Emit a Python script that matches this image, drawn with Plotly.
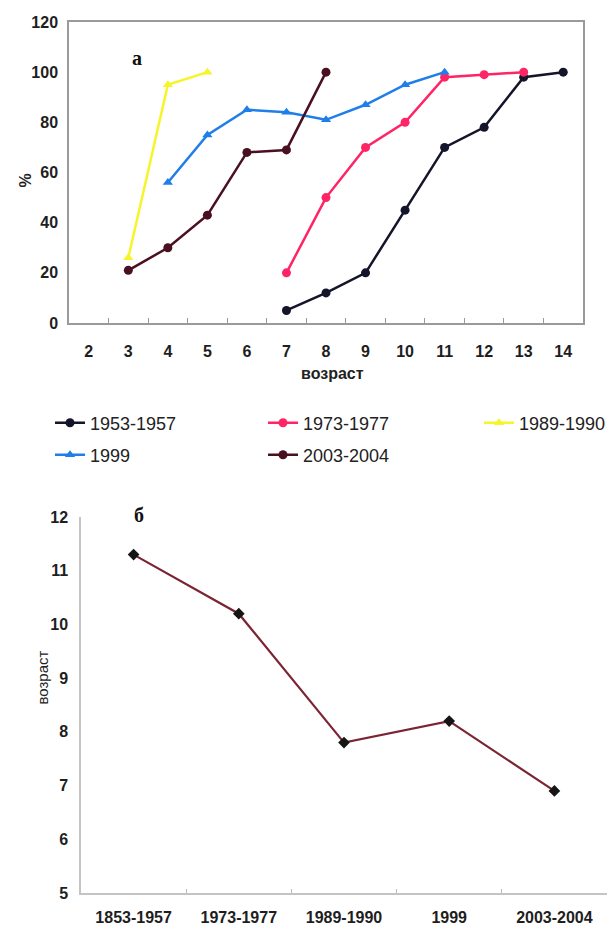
import plotly.graph_objects as go

W, H = 611, 925

# ---- Chart "а": share (%) by age ----
ages = ["2", "3", "4", "5", "6", "7", "8", "9", "10", "11", "12", "13", "14"]

s1953_x = ["7", "8", "9", "10", "11", "12", "13", "14"]
s1953_y = [5, 12, 20, 45, 70, 78, 98, 100]

s1973_x = ["7", "8", "9", "10", "11", "12", "13"]
s1973_y = [20, 50, 70, 80, 98, 99, 100]

s1989_x = ["3", "4", "5"]
s1989_y = [26, 95, 100]

s1999_x = ["4", "5", "6", "7", "8", "9", "10", "11"]
s1999_y = [56, 75, 85, 84, 81, 87, 95, 100]

s2003_x = ["3", "4", "5", "6", "7", "8"]
s2003_y = [21, 30, 43, 68, 69, 100]

# ---- Chart "б": mean age by period ----
periods = ["1853-1957", "1973-1977", "1989-1990", "1999", "2003-2004"]
mean_age = [11.3, 10.2, 7.8, 8.2, 6.9]

FONT = "Liberation Sans, Arial, sans-serif"
SERIF = "Liberation Serif, Times New Roman, serif"

def px_x(x):
    return x / W

def px_y(y):
    return 1 - y / H

fig = go.Figure()

series = [
    ("1953-1957", s1953_x, s1953_y, "#14142a", "circle", "legend"),
    ("1973-1977", s1973_x, s1973_y, "#ff2466", "circle", "legend"),
    ("1989-1990", s1989_x, s1989_y, "#f6f42a", "triangle-up", "legend3"),
    ("1999", s1999_x, s1999_y, "#1f7ee8", "triangle-up", "legend2"),
    ("2003-2004", s2003_x, s2003_y, "#4a1020", "circle", "legend2"),
]
for name, xs, ys, col, sym, lg in series:
    fig.add_trace(go.Scatter(
        x=xs, y=ys, name=name, mode="lines+markers",
        line=dict(color=col, width=2.5),
        marker=dict(color=col, symbol=sym, size=9),
        xaxis="x", yaxis="y", legend=lg,
    ))

fig.add_trace(go.Scatter(
    x=periods, y=mean_age, mode="lines+markers", showlegend=False,
    line=dict(color="#7a2434", width=2.2),
    marker=dict(color="#151515", symbol="diamond", size=9),
    xaxis="x2", yaxis="y2",
))

tickfont = dict(family=FONT, size=16, color="#1e1e1e", weight="bold")
legfont = dict(family=FONT, size=18, color="#222")

def leg(x, y, ew=None):
    d = dict(
        orientation="h", x=px_x(x), y=px_y(y), xanchor="left", yanchor="middle",
        font=legfont, bgcolor="rgba(0,0,0,0)",
    )
    if ew:
        d.update(entrywidth=ew, entrywidthmode="pixels")
    return d

fig.update_layout(
    width=W, height=H,
    margin=dict(l=0, r=0, t=0, b=0, autoexpand=False),
    paper_bgcolor="white", plot_bgcolor="white",
    font=dict(family=FONT, color="#222"),
    xaxis=dict(
        domain=[px_x(69), px_x(583)],
        type="category", categoryorder="array", categoryarray=ages,
        range=[-0.5, 12.5], tickson="boundaries",
        ticks="inside", ticklen=5, tickcolor="#999", tickwidth=1.2,
        showline=True, mirror=True, linecolor="#9a9a9a", linewidth=1.5,
        showgrid=False, zeroline=False, tickfont=tickfont,
        ticklabelstandoff=13, anchor="y", tickangle=0,
    ),
    yaxis=dict(
        domain=[px_y(323), px_y(22)],
        range=[0, 120], dtick=20, tickmode="linear", tick0=0,
        ticks="", showline=True, mirror=True, linecolor="#9a9a9a", linewidth=1.5,
        showgrid=False, zeroline=False, tickfont=tickfont,
        ticklabelstandoff=6, anchor="x",
    ),
    xaxis2=dict(
        domain=[px_x(81), px_x(607)],
        type="category", categoryorder="array", categoryarray=periods,
        range=[-0.5, 4.5], tickson="boundaries",
        ticks="inside", ticklen=4, tickcolor="#bbb",
        showline=True, linecolor="#c4c4c4", linewidth=1.5,
        showgrid=False, zeroline=False, tickfont=tickfont,
        ticklabelstandoff=9, anchor="y2", tickangle=0,
    ),
    yaxis2=dict(
        domain=[px_y(893), px_y(517)],
        range=[5, 12], dtick=1, tickmode="linear", tick0=5,
        ticks="", showline=True, linecolor="#c4c4c4", linewidth=1.5,
        showgrid=False, zeroline=False, tickfont=tickfont,
        ticklabelstandoff=8, anchor="x2",
    ),
    legend=leg(50, 423, 168),
    legend2=leg(50, 455, 168),
    legend3=leg(479, 423),
    annotations=[
        dict(text="<b>а</b>", x=px_x(130), y=px_y(45), xref="paper", yref="paper",
             showarrow=False, font=dict(family=SERIF, size=20, color="#111")),
        dict(text="<b>б</b>", x=px_x(132), y=px_y(515), xref="paper", yref="paper",
             showarrow=False, font=dict(family=SERIF, size=20, color="#111")),
        dict(text="%", x=px_x(14), y=px_y(172), xref="paper", yref="paper",
             showarrow=False, textangle=-90,
             font=dict(family=FONT, size=16, color="#222", weight="bold")),
        dict(text="<b>возраст</b>", x=px_x(332), y=px_y(373), xref="paper", yref="paper",
             showarrow=False, font=dict(family=FONT, size=16, color="#222")),
        dict(text="возраст", x=px_x(31), y=px_y(707), xref="paper", yref="paper",
             showarrow=False, textangle=-90, font=dict(family=FONT, size=15, color="#222")),
    ],
)

fig.write_html("out.html")
